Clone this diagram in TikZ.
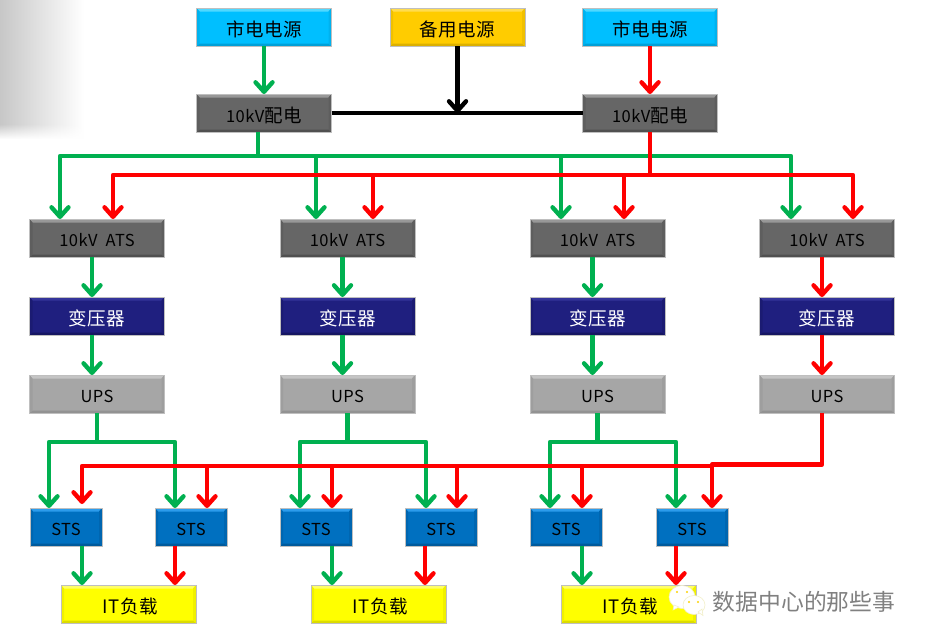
\documentclass[tikz,border=0pt]{standalone}
\usepackage{fontspec}
\setmainfont{Noto Sans CJK SC}
\newfontfamily\boxfont[LetterSpace=3]{Noto Sans CJK SC}
\newcommand{\smallkv}{{\fontsize{16.5}{20}\selectfont 10kV}}
\usetikzlibrary{arrows.meta,fadings,calc}
\definecolor{cG}{HTML}{00B050}
\definecolor{cR}{HTML}{FF0000}
\definecolor{aF}{HTML}{00BFFF}\definecolor{aT}{HTML}{50D8FF}\definecolor{aB}{HTML}{00A0D8}\definecolor{aS}{HTML}{00B2EE}
\definecolor{bF}{HTML}{FFCC00}\definecolor{bT}{HTML}{FFDC50}\definecolor{bB}{HTML}{DCB000}\definecolor{bS}{HTML}{F0C000}
\definecolor{dF}{HTML}{666666}\definecolor{dT}{HTML}{989898}\definecolor{dB}{HTML}{505050}\definecolor{dS}{HTML}{5E5E5E}
\definecolor{tF}{HTML}{1F1F7F}\definecolor{tT}{HTML}{34349A}\definecolor{tB}{HTML}{161662}\definecolor{tS}{HTML}{1B1B72}
\definecolor{uF}{HTML}{A6A6A6}\definecolor{uT}{HTML}{C4C4C4}\definecolor{uB}{HTML}{929292}\definecolor{uS}{HTML}{9E9E9E}
\definecolor{kF}{HTML}{0070C0}\definecolor{kT}{HTML}{2C9CEC}\definecolor{kB}{HTML}{005A9C}\definecolor{kS}{HTML}{0066B0}
\definecolor{lF}{HTML}{FFFF00}\definecolor{lT}{HTML}{FFFF66}\definecolor{lB}{HTML}{DCDC00}\definecolor{lS}{HTML}{F0F000}
\definecolor{wmEdge}{HTML}{F2EFC8}
\tikzset{
  x=1pt,y=-1pt,
  lineG/.style={draw=cG,line width=4.4pt,line join=round},
  lineR/.style={draw=cR,line width=4.4pt,line join=round},
  lineK/.style={draw=black,line width=4.4pt,line join=round},
  barb/.style={-{Straight Barb[round,length=9.5pt,width=17pt]}},
  bevbox/.style n args={4}{fill=#1,draw=black!25,line width=0.5pt,inner sep=0pt,outer sep=0pt,
    text height=19pt,text depth=1pt,
    font=\boxfont\fontsize{18.5}{20}\selectfont,
    path picture={
      \fill[#2] (path picture bounding box.north west) -- (path picture bounding box.north east)
        -- ([xshift=-3pt,yshift=-3.5pt]path picture bounding box.north east)
        -- ([xshift=3pt,yshift=-3.5pt]path picture bounding box.north west) -- cycle;
      \fill[#3] (path picture bounding box.south west) -- (path picture bounding box.south east)
        -- ([xshift=-3pt,yshift=2.5pt]path picture bounding box.south east)
        -- ([xshift=3pt,yshift=2.5pt]path picture bounding box.south west) -- cycle;
      \fill[#4] (path picture bounding box.north east) -- (path picture bounding box.south east)
        -- ([xshift=-3pt,yshift=2.5pt]path picture bounding box.south east)
        -- ([xshift=-3pt,yshift=-3.5pt]path picture bounding box.north east) -- cycle;
      \fill[#4] (path picture bounding box.north west) -- (path picture bounding box.south west)
        -- ([xshift=3pt,yshift=2.5pt]path picture bounding box.south west)
        -- ([xshift=3pt,yshift=-3.5pt]path picture bounding box.north west) -- cycle;
    }},
  wide/.style={minimum width=135pt,minimum height=38pt},
  narrow/.style={minimum width=72pt,minimum height=38pt},
  latin/.style={font=\boxfont\fontsize{16.5}{20}\selectfont,text height=17.5pt,text depth=0.5pt},
  srcA/.style={wide,bevbox={aF}{aT}{aB}{aS}},
  srcB/.style={wide,bevbox={bF}{bT}{bB}{bS}},
  dark/.style={wide,bevbox={dF}{dT}{dB}{dS}},
  atsbox/.style={dark,latin},
  xfmr/.style={wide,text=white,bevbox={tF}{tT}{tB}{tS}},
  upsbox/.style={wide,bevbox={uF}{uT}{uB}{uS},latin},
  stsbox/.style={narrow,bevbox={kF}{kT}{kB}{kS},latin},
  load/.style={wide,bevbox={lF}{lT}{lB}{lS}},
}
\begin{document}
\begin{tikzpicture}
\useasboundingbox (0,0) rectangle (925,643);
% corner shading
\shade[left color=black!22,middle color=black!7,right color=white] (0,0) rectangle (84,138);
\fill[white,path fading=north] (0,124) rectangle (84,139);

% row 1 and 2
\node[srcA] (s1) at (264,27) {市电电源};
\node[srcB] (s2) at (457.5,27) {备用电源};
\node[srcA] (s3) at (650,27) {市电电源};
\node[dark] (c1) at (264,113) {\smallkv 配电};
\node[dark] (c2) at (650,113) {\smallkv 配电};

% columns
\foreach \n/\cx in {1/97,2/347.5,3/597.5,4/827}{
  \node[atsbox] (a\n) at (\cx,238) {10kV\hspace{8pt}ATS};
  \node[xfmr] (t\n) at (\cx,316) {变压器};
  \node[upsbox] (u\n) at (\cx,394) {UPS};
}
\foreach \n/\cx in {1/66,2/191,3/316,4/441,5/566,6/692}{
  \node[stsbox] (k\n) at (\cx,527) {STS};
}
\node[load] (l1) at (128.5,604) {\hspace{3pt}IT负载};
\node[load] (l2) at (378.5,604) {\hspace{3pt}IT负载};
\node[load] (l3) at (628.5,604) {\hspace{3pt}IT负载};

% top feeds
\draw[lineG,barb] (s1.south) -- (c1.north);
\draw[lineR,barb] (s3.south) -- (c2.north);
\draw[lineK] (c1.east) -- (c2.west);
\draw[lineK,barb] (s2.south) -- (s2.south |- c1.east);

% 10 kV buses
\coordinate (gb) at (258,156);
\coordinate (rb) at (650,175);
\draw[lineG] ([xshift=-6pt]c1.south) -- (gb);
\draw[lineG,barb] (gb) -| ([xshift=-37pt]a1.north);
\draw[lineG,barb] (gb) -| ([xshift=-36pt]a4.north);
\draw[lineG,barb] ([xshift=-31.5pt]a2.north |- gb) -- ([xshift=-31.5pt]a2.north);
\draw[lineG,barb] ([xshift=-36.5pt]a3.north |- gb) -- ([xshift=-36.5pt]a3.north);
\draw[lineR] (c2.south) -- (rb);
\draw[lineR,barb] (rb) -| ([xshift=16pt]a1.north);
\draw[lineR,barb] (rb) -| ([xshift=26pt]a4.north);
\draw[lineR,barb] ([xshift=25.5pt]a2.north |- rb) -- ([xshift=25.5pt]a2.north);
\draw[lineR,barb] ([xshift=26.5pt]a3.north |- rb) -- ([xshift=26.5pt]a3.north);

% vertical chains
\foreach \n in {1,2,3}{
  \draw[lineG,barb] ([xshift=-5pt]a\n.south) -- ([xshift=-5pt]t\n.north);
  \draw[lineG,barb] ([xshift=-5pt]t\n.south) -- ([xshift=-5pt]u\n.north);
}
\draw[lineR,barb] ([xshift=-5pt]a4.south) -- ([xshift=-5pt]t4.north);
\draw[lineR,barb] ([xshift=-5pt]t4.south) -- ([xshift=-5pt]u4.north);

% UPS green splits
\coordinate (j1) at (97,442);
\coordinate (j2) at (347.5,442);
\coordinate (j3) at (597.5,442);
\draw[lineG] (u1.south) -- (j1);
\draw[lineG] (u2.south) -- (j2);
\draw[lineG] (u3.south) -- (j3);
\draw[lineG,barb] (j1) -| ([xshift=-17pt]k1.north);
\draw[lineG,barb] (j1) -| ([xshift=-16pt]k2.north);
\draw[lineG,barb] (j2) -| ([xshift=-16pt]k3.north);
\draw[lineG,barb] (j2) -| ([xshift=-15pt]k4.north);
\draw[lineG,barb] (j3) -| ([xshift=-16pt]k5.north);
\draw[lineG,barb] (j3) -| ([xshift=-16pt]k6.north);

% red STS bus
\coordinate (rs) at (712,466);
\coordinate (rs2) at (712,464.5);
\draw[lineR] ([xshift=-5pt]u4.south) |- (rs2) -- (rs);
\draw[lineR,barb] (rs) -| ([xshift=16pt,yshift=4pt]k1.north);
\draw[lineR,barb] (rs) -- ([xshift=20pt]k6.north);
\draw[lineR,barb] ([xshift=16pt]k2.north |- rs) -- ([xshift=16pt]k2.north);
\draw[lineR,barb] ([xshift=16pt]k3.north |- rs) -- ([xshift=16pt]k3.north);
\draw[lineR,barb] ([xshift=16pt]k4.north |- rs) -- ([xshift=16pt]k4.north);
\draw[lineR,barb] ([xshift=16pt]k5.north |- rs) -- ([xshift=16pt]k5.north);

% loads
\draw[lineG,barb] ([xshift=16pt]k1.south) -- ([xshift=16pt]k1.south |- l1.north);
\draw[lineR,barb] ([xshift=-16pt]k2.south) -- ([xshift=-16pt]k2.south |- l1.north);
\draw[lineG,barb] ([xshift=16pt]k3.south) -- ([xshift=16pt]k3.south |- l2.north);
\draw[lineR,barb] ([xshift=-16pt]k4.south) -- ([xshift=-16pt]k4.south |- l2.north);
\draw[lineG,barb] ([xshift=16pt]k5.south) -- ([xshift=16pt]k5.south |- l3.north);
\draw[lineR,barb] ([xshift=-16pt]k6.south) -- ([xshift=-16pt]k6.south |- l3.north);

% watermark
\fill[white,draw=wmEdge,line width=0.6pt] (682,597) ellipse (13 and 11.5);
\fill[white,draw=wmEdge,line width=0.6pt] (674,605) -- (673,610) -- (679,607) -- cycle;
\fill[white,draw=wmEdge,line width=0.6pt] (694,605) ellipse (11 and 9.5);
\fill[white,draw=wmEdge,line width=0.6pt] (698,612) -- (703,615.5) -- (702,609) -- cycle;
\fill[yellow!70!orange] (677,592) circle (1.2) (687,592) circle (1.2) (689,602) circle (1.1) (698,602) circle (1.1);
\node[text=black!50,inner sep=0pt,font=\fontsize{22.8}{24}\selectfont] (wm) at (804,602) {数据中心的那些事};
\end{tikzpicture}
\end{document}
